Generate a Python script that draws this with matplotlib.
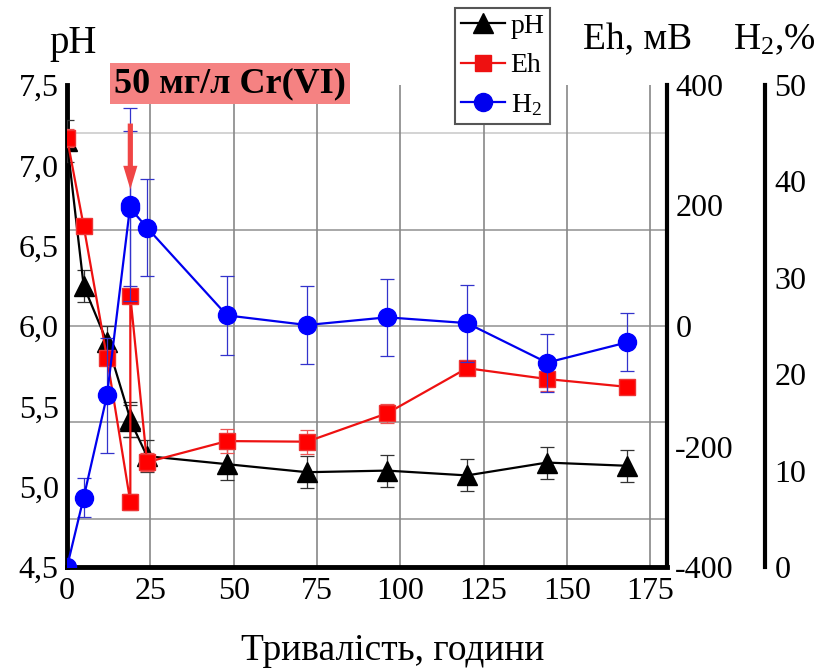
import numpy as np
import matplotlib
matplotlib.use("Agg")
import matplotlib.pyplot as plt
from matplotlib.lines import Line2D
from matplotlib.patches import FancyArrowPatch

plt.rcParams['font.family'] = ['Liberation Serif', 'DejaVu Serif']
plt.rcParams['mathtext.fontset'] = 'custom'
plt.rcParams['mathtext.rm'] = 'Liberation Serif'
plt.rcParams['mathtext.it'] = 'Liberation Serif:italic'

# ---- data ----
time_h = [0, 5, 12, 19, 19, 24, 48, 72, 96, 120, 144, 168]
ph_vals = [7.15, 6.25, 5.90, 5.42, 5.41, 5.19, 5.14, 5.09, 5.10, 5.07, 5.15, 5.13]
ph_err = [0.13, 0.10, 0.10, 0.11, 0.10, 0.10, 0.10, 0.10, 0.10, 0.10, 0.10, 0.10]
eh_vals = [312, 166, -53, -292, 50, -226, -191, -192, -145, -70, -88, -101]
eh_err = [15, 10, 10, 13, 10, 15, 20, 20, 16, 6, 20, 5]
h2_vals = [0, 7.2, 17.8, 37.6, 37.2, 35.2, 26.1, 25.1, 25.9, 25.3, 21.2, 23.3]
h2_err = [0, 2, 6, 10, 8, 5, 4.1, 4, 4, 4, 3, 3]
cr_add_time = 19

x_ticks = [0, 25, 50, 75, 100, 125, 150, 175]
ph_ticks = [4.5, 5.0, 5.5, 6.0, 6.5, 7.0, 7.5]
eh_ticks = [-400, -200, 0, 200, 400]
h2_ticks = [0, 10, 20, 30, 40, 50]
grid_ph = [4.8, 5.4, 6.0, 6.6, 7.2]

W, H = 823, 671
fig = plt.figure(figsize=(W / 100, H / 100), dpi=100)
ax = fig.add_axes([67 / W, 1 - 567 / H, 600 / W, 482 / H])
ax2 = ax.twinx()
ax3 = ax.twinx()

TICK_FS = 23

# grid
for g in grid_ph:
    ax.axhline(g, color='#cccccc' if g > 7 else '#999999', lw=1.2, zorder=0)
for xv in x_ticks[1:]:
    ax.axvline(xv, color='#888888', lw=1.2, zorder=0)

# pH
ax.errorbar(time_h, ph_vals, yerr=ph_err, color='black', lw=1.6, marker='^', ms=14,
            ecolor='#333333', elinewidth=0.9, capsize=5, capthick=0.9, zorder=3)
# Eh
ax2.errorbar(time_h, eh_vals, yerr=eh_err, color='#ee1111', lw=1.6, marker='s', ms=11,
             mfc='red', mec='#ee3333', ecolor='#ee5555', elinewidth=0.9, capsize=5, capthick=0.9,
             zorder=3)
# H2
ax3.errorbar(time_h, h2_vals, yerr=h2_err, color='#0000ee', lw=1.6, marker='o', ms=13,
             mfc='#0000ff', mec='#0000ff', ecolor='#3333cc', elinewidth=0.9, capsize=5,
             capthick=0.9, zorder=3)

ax.set_xlim(0, 180)
ax.set_ylim(4.5, 7.5)
ax2.set_ylim(-400, 400)
ax3.set_ylim(0, 50)

ax.set_xticks(x_ticks)
ax.set_xticklabels([str(v) for v in x_ticks])
ax.set_yticks(ph_ticks)
ax.set_yticklabels([f"{v:.1f}".replace('.', ',') for v in ph_ticks])
ax2.set_yticks(eh_ticks)
ax2.set_yticklabels([str(v) for v in eh_ticks])
ax3.set_yticks(h2_ticks)
ax3.set_yticklabels([str(v) for v in h2_ticks])

ax.tick_params(axis='both', length=0, labelsize=TICK_FS)
ax.tick_params(axis='y', pad=6)
ax.tick_params(axis='x', pad=7)
ax2.tick_params(axis='y', length=0, labelsize=TICK_FS, pad=6)
ax3.tick_params(axis='y', length=0, labelsize=TICK_FS, pad=7)

for a in (ax, ax2, ax3):
    for s in a.spines.values():
        s.set_visible(False)
ax.spines['left'].set_visible(True)
ax.spines['left'].set_linewidth(3.5)
ax.spines['bottom'].set_visible(True)
ax.spines['bottom'].set_linewidth(3.5)
ax2.spines['right'].set_visible(True)
ax2.spines['right'].set_linewidth(3)
ax3.spines['right'].set_visible(True)
ax3.spines['right'].set_position(('axes', 1.163))
ax3.spines['right'].set_linewidth(3)

# arrow marking Cr(VI) addition
arrow = FancyArrowPatch((cr_add_time, 7.26), (cr_add_time, 6.85),
                        transform=ax.transData,
                        arrowstyle='simple,head_length=1.0,head_width=0.6,tail_width=0.22',
                        mutation_scale=17, color='#f04545', lw=0,
                        shrinkA=0, shrinkB=0, zorder=10)
ax3.add_patch(arrow)

# texts
fig.text(230 / W, 1 - 83.5 / H, '50 мг/л Cr(VI)', fontsize=26, fontweight='bold',
         ha='center', va='center',
         bbox=dict(boxstyle='square,pad=0.12', fc='#f58282', ec='none'))
fig.text(73 / W, 1 - 43 / H, 'pH', fontsize=28, ha='center', va='center')
fig.text(638 / W, 1 - 40 / H, 'Eh, мВ', fontsize=27, ha='center', va='center')
fig.text(774 / W, 1 - 40 / H, 'H$_2$,%', fontsize=27, ha='center', va='center')
fig.text(393 / W, 1 - 660 / H, 'Тривалість, години', fontsize=27, ha='center', va='baseline')

handles = [
    Line2D([], [], color='black', lw=1.6, marker='^', ms=14),
    Line2D([], [], color='#ee1111', lw=1.6, marker='s', ms=11),
    Line2D([], [], color='#0000ee', lw=1.6, marker='o', ms=13),
]
leg = fig.legend(handles, ['pH', 'Eh', 'H$_2$'], loc='upper left',
                 bbox_to_anchor=(455 / W, 1 - 8 / H), fontsize=20, frameon=True,
                 fancybox=False, edgecolor='#555555', framealpha=1,
                 borderpad=0.2, labelspacing=0.5, handlelength=1.6,
                 handletextpad=0.2, borderaxespad=0)
leg.get_frame().set_linewidth(1.5)

fig.savefig('out.png', dpi=100)
